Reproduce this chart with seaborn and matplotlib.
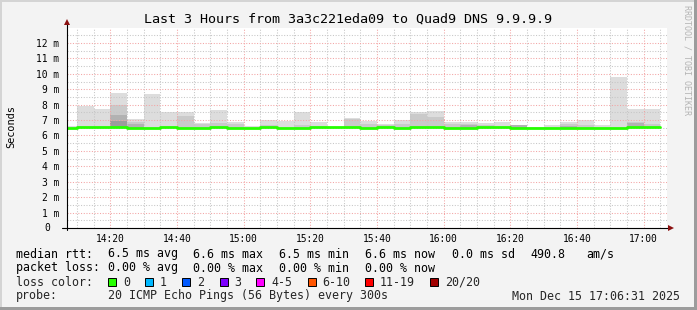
import numpy as np
import pandas as pd
import matplotlib
matplotlib.use("Agg")
import matplotlib.pyplot as plt
import seaborn as sns
from matplotlib.patches import Rectangle
from matplotlib.lines import Line2D
from matplotlib.ticker import MultipleLocator, FixedLocator
import matplotlib.transforms as mtrans

# ---------------- data ----------------
interval_start = ["14:05", "14:10", "14:15", "14:20", "14:25", "14:30", "14:35", "14:40",
                  "14:45", "14:50", "14:55", "15:00", "15:05", "15:10", "15:15", "15:20",
                  "15:25", "15:30", "15:35", "15:40", "15:45", "15:50", "15:55", "16:00",
                  "16:05", "16:10", "16:15", "16:20", "16:25", "16:30", "16:35", "16:40",
                  "16:45", "16:50", "16:55", "17:00"]
median_ms = [6.50, 6.58, 6.58, 6.58, 6.50, 6.50, 6.58, 6.50, 6.50, 6.58, 6.50, 6.50,
             6.58, 6.50, 6.50, 6.58, 6.58, 6.58, 6.50, 6.58, 6.50, 6.58, 6.58, 6.50,
             6.50, 6.58, 6.58, 6.50, 6.50, 6.50, 6.50, 6.50, 6.50, 6.50, 6.58, 6.58]
# smoke shades (top of each band, ms); None = band not visible
smoke_light = [6.61, 7.93, 7.72, 8.75, 7.05, 8.69, 7.52, 7.52, 6.81, 7.65, 6.87, 6.60,
               7.00, 6.94, 7.52, 6.90, 6.58, 7.16, 6.96, 6.76, 7.00, 7.52, 7.61, 6.87,
               6.87, 6.79, 6.87, 6.68, 6.55, 6.68, 6.85, 7.00, 6.68, 9.77, 7.72, 7.72]
smoke_mid = [None, None, None, 7.95, 6.90, None, None, 7.28, 6.72, 6.82, 6.72, None,
             6.65, None, 6.65, None, None, 7.10, 6.76, 6.67, 6.72, 7.41, 7.22, 6.72,
             6.72, 6.68, None, 6.65, None, None, 6.72, 6.70, None, None, 6.90, 6.75]
smoke_dark = [None, None, None, 7.35, 6.76, None, None, None, None, None, None, None,
              None, None, None, None, None, None, None, None, None, None, None, None,
              6.66, None, None, 6.65, None, None, 6.64, None, None, None, 6.78, None]
smoke_darkest = [None, None, None, 6.93, None, None, None, None, None, None, None, None,
                 None, None, None, None, None, None, None, None, None, None, None, None,
                 None, None, None, None, None, None, None, None, None, None, None, None]
step_min = 5
x_tick_labels = ["14:20", "14:40", "15:00", "15:20", "15:40", "16:00", "16:20", "16:40", "17:00"]
y_tick_values = list(range(1, 13))

title = "Last 3 Hours from 3a3c221eda09 to Quad9 DNS 9.9.9.9"
legend_rows = [
    [("median rtt:", 16), ("6.5 ms avg", 107.6), ("6.6 ms max", 193), ("6.5 ms min", 279),
     ("6.6 ms now", 365), ("0.0 ms sd", 451.6), ("490.8", 530), ("am/s", 586.7)],
    [("packet loss:", 16), ("0.00 % avg", 107.6), ("0.00 % max", 193), ("0.00 % min", 279),
     ("0.00 % now", 365)],
]
loss_labels = ["0", "1", "2", "3", "4-5", "6-10", "11-19", "20/20"]
loss_colors = ["#26ff00", "#00b8ff", "#0059ff", "#7e00ff", "#ff00ff", "#ff5500", "#ff0000", "#a10000"]
probe_text = "20 ICMP Echo Pings (56 Bytes) every 300s"
stamp_text = "Mon Dec 15 17:06:31 2025"


def to_min(s):
    h, m = s.split(":")
    return (int(h) - 14) * 60 + int(m)


starts = np.array([to_min(s) for s in interval_start], dtype=float)
med = np.array(median_ms)

sns.set_theme(style="white")
plt.rcParams["font.family"] = ["DejaVu Sans Mono", "DejaVu Sans"]

W, H = 697, 310
BG = "#f3f3f3"
fig = plt.figure(figsize=(W / 100, H / 100), dpi=100, facecolor=BG)
ax = fig.add_axes([67 / W, (H - 228) / H, 600 / W, 200 / H])
ax.set_facecolor("white")

# smoke
shade_sets = [(smoke_light, "#dddddd"), (smoke_mid, "#cacaca"),
              (smoke_dark, "#b2b2b2"), (smoke_darkest, "#9c9c9c")]
for vals, col in shade_sets:
    top = np.array([m if v is None else v for v, m in zip(vals, median_ms)])
    ax.bar(starts, top - med, bottom=med, width=step_min, align="edge",
           color=col, linewidth=0, zorder=1)

# median line
df = pd.DataFrame({"t": np.append(starts, starts[-1] + step_min),
                   "ms": np.append(med, med[-1])})
sns.lineplot(data=df, x="t", y="ms", drawstyle="steps-post", color="#26ff00",
             linewidth=2.0, ax=ax, zorder=3)
ax.set_xlabel("")
ax.set_ylabel("")

ax.set_xlim(7, 187)
ax.set_ylim(0, 12.97)

ax.xaxis.set_major_locator(FixedLocator([to_min(s) for s in x_tick_labels]))
ax.xaxis.set_minor_locator(MultipleLocator(5))
ax.set_xticklabels(x_tick_labels)
ax.set_yticks([0] + y_tick_values)
ax.set_yticklabels([""] + [f"{v} m" for v in y_tick_values])
ax.yaxis.set_minor_locator(MultipleLocator(0.5))

ax.set_axisbelow(False)
ax.grid(which="major", color="#f3a4a4", linestyle=(0, (1, 1.6)), linewidth=0.75)
ax.grid(which="minor", color="#c6c6c6", linestyle=(0, (1, 1.6)), linewidth=0.75)

for s in ax.spines.values():
    s.set_visible(False)
ax.tick_params(axis="both", which="major", direction="out", length=2.5, width=0.7,
               color="black", labelsize=6.9, labelcolor="black")
ax.tick_params(axis="both", which="minor", direction="out", length=1.4, width=0.6,
               color="black")
ax.tick_params(axis="y", which="major", pad=3.0)
ax.tick_params(axis="x", which="major", pad=1.6)

# "0" label
ax.text(-20 / 600, 0, "0", transform=mtrans.blended_transform_factory(ax.transAxes, ax.transData),
        ha="center", va="center", fontsize=6.9, color="black")

# axis lines with arrows
ax.plot([-0.008, 1.004], [0, 0], transform=ax.transAxes, color="black", lw=0.8,
        clip_on=False, zorder=4)
ax.plot([0, 0], [-0.01, 1.028], transform=ax.transAxes, color="black", lw=0.8,
        clip_on=False, zorder=4)
ax.plot([1.007], [0], marker=">", markersize=4, color="#8b1010", transform=ax.transAxes,
        clip_on=False, zorder=5, markeredgewidth=0)
ax.plot([0], [1.03], marker="^", markersize=4, color="#8b1010", transform=ax.transAxes,
        clip_on=False, zorder=5, markeredgewidth=0)

# texts
fig.text(348 / W, 1 - 19 / H, title, ha="center", va="center", fontsize=9.6, color="black")
fig.text(11 / W, 1 - 127 / H, "Seconds", rotation=90, ha="center", va="center",
         fontsize=7.4, color="black")
fig.text(687 / W, 1 - 60 / H, "RRDTOOL / TOBI OETIKER", rotation=270, ha="center",
         va="center", fontsize=6.0, color="#b4b4b4")

LF = 8.35
row_y = [254, 268, 282, 296]
for row, yy in zip(legend_rows, row_y[:2]):
    for txt, xx in row:
        fig.text(xx / W, 1 - yy / H, txt, ha="left", va="center", fontsize=LF, color="black")
fig.text(16 / W, 1 - row_y[2] / H, "loss color:", ha="left", va="center", fontsize=LF)
box_x = [108.4, 145.3, 182, 219.6, 256.4, 307.6, 365.3, 430]
lab_x = [123, 160, 197, 234, 271, 322, 380, 445]
for bx, lx, lab, col in zip(box_x, lab_x, loss_labels, loss_colors):
    fig.add_artist(Rectangle((bx / W, 1 - (row_y[2] + 4) / H), 8 / W, 8 / H,
                             transform=fig.transFigure, facecolor=col, edgecolor="black",
                             linewidth=0.7))
    fig.text(lx / W, 1 - row_y[2] / H, lab, ha="left", va="center", fontsize=LF)
fig.text(16 / W, 1 - row_y[3] / H, "probe:", ha="left", va="center", fontsize=LF)
fig.text(107.6 / W, 1 - row_y[3] / H, probe_text, ha="left", va="center", fontsize=LF)
fig.text(680 / W, 1 - row_y[3] / H, stamp_text, ha="right", va="center", fontsize=LF)

# frame (3D border)
fig.add_artist(Rectangle((0, 0), 2 / W, 1, transform=fig.transFigure, color="#d4d4d4", lw=0))
fig.add_artist(Rectangle((0, 1 - 2 / H), 1, 2 / H, transform=fig.transFigure, color="#d4d4d4", lw=0))
fig.add_artist(Rectangle((1 - 3 / W, 0), 3 / W, 1, transform=fig.transFigure, color="#9c9c9c", lw=0))
fig.add_artist(Rectangle((0, 0), 1, 3 / H, transform=fig.transFigure, color="#9c9c9c", lw=0))

fig.savefig("out.png", dpi=100, facecolor=BG)
